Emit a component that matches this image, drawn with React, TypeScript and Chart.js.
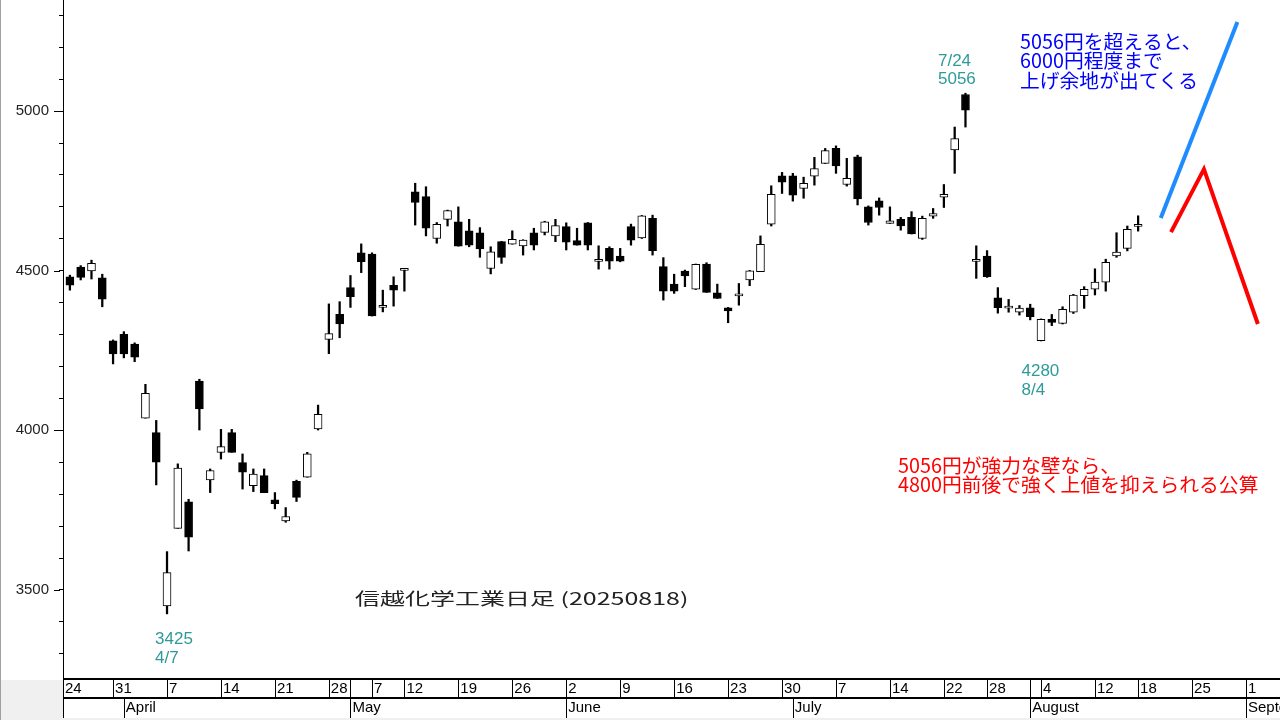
import React, { useEffect, useRef } from 'react';
import { Chart, registerables } from 'chart.js';

Chart.register(...registerables);

// ---------- data ----------
const tradingDays = [
  '03-24', '03-25', '03-26', '03-27', '03-28', '03-31',
  '04-01', '04-02', '04-03', '04-04', '04-07', '04-08', '04-09', '04-10', '04-11', '04-14', '04-15', '04-16', '04-17', '04-18',
  '04-21', '04-22', '04-23', '04-24', '04-25', '04-28', '04-30',
  '05-01', '05-02', '05-07', '05-08', '05-09', '05-12', '05-13', '05-14', '05-15', '05-16', '05-19', '05-20', '05-21', '05-22',
  '05-23', '05-26', '05-27', '05-28', '05-29', '05-30',
  '06-02', '06-03', '06-04', '06-05', '06-06', '06-09', '06-10', '06-11', '06-12', '06-13', '06-16', '06-17', '06-18', '06-19',
  '06-20', '06-23', '06-24', '06-25', '06-26', '06-27', '06-30',
  '07-01', '07-02', '07-03', '07-04', '07-07', '07-08', '07-09', '07-10', '07-11', '07-14', '07-15', '07-16', '07-17', '07-18',
  '07-22', '07-23', '07-24', '07-25', '07-28', '07-29', '07-30', '07-31',
  '08-01', '08-04', '08-05', '08-06', '08-07', '08-08', '08-12', '08-13', '08-14', '08-15', '08-18', '08-19', '08-20', '08-21',
  '08-22', '08-25', '08-26', '08-27', '08-28', '08-29',
  '09-01', '09-02', '09-03', '09-04',
];

const openPrices = [
  4481, 4511, 4499, 4478, 4280, 4301, 4270, 4038, 3993, 3450,
  3693, 3776, 4154, 3845, 3931, 3993, 3899, 3827, 3858, 3782,
  3716, 3840, 3853, 4004, 4285, 4363, 4447, 4556, 4552, 4385,
  4454, 4501, 4747, 4732, 4601, 4661, 4653, 4625, 4619, 4507,
  4591, 4583, 4578, 4619, 4620, 4609, 4638, 4594, 4650, 4529,
  4570, 4546, 4638, 4603, 4664, 4513, 4458, 4499, 4442, 4521,
  4431, 4384, 4421, 4471, 4497, 4646, 4797, 4797, 4758, 4796,
  4836, 4883, 4770, 4857, 4700, 4719, 4648, 4661, 4667, 4601,
  4671, 4730, 4878, 5052, 4529, 4546, 4415, 4383, 4370, 4384,
  4281, 4348, 4335, 4370, 4422, 4442, 4464, 4546, 4570, 4639,
];
const highPrices = [
  4486, 4516, 4533, 4489, 4283, 4309, 4274, 4144, 4031, 3620,
  3895, 3784, 4160, 3879, 4003, 4003, 3926, 3879, 3879, 3805,
  3758, 3844, 3931, 4079, 4396, 4403, 4485, 4584, 4556, 4439,
  4481, 4507, 4774, 4763, 4651, 4690, 4700, 4661, 4635, 4575,
  4592, 4625, 4597, 4633, 4655, 4661, 4650, 4633, 4651, 4578,
  4575, 4570, 4646, 4673, 4674, 4541, 4489, 4502, 4521, 4525,
  4458, 4385, 4460, 4501, 4609, 4766, 4808, 4805, 4793, 4855,
  4883, 4891, 4852, 4862, 4703, 4728, 4700, 4667, 4685, 4671,
  4695, 4770, 4950, 5056, 4578, 4563, 4447, 4410, 4391, 4395,
  4349, 4363, 4387, 4426, 4450, 4506, 4536, 4619, 4640, 4672,
];
const lowPrices = [
  4439, 4471, 4474, 4387, 4208, 4227, 4215, 4038, 3829, 3425,
  3693, 3622, 4001, 3805, 3910, 3931, 3816, 3808, 3805, 3754,
  3712, 3777, 3853, 4001, 4240, 4290, 4385, 4494, 4358, 4371,
  4389, 4436, 4643, 4609, 4586, 4640, 4577, 4575, 4542, 4490,
  4523, 4583, 4549, 4565, 4612, 4591, 4565, 4580, 4565, 4505,
  4505, 4528, 4580, 4601, 4549, 4408, 4429, 4450, 4441, 4432,
  4413, 4337, 4392, 4453, 4497, 4640, 4742, 4718, 4727, 4768,
  4836, 4805, 4765, 4706, 4643, 4674, 4648, 4627, 4615, 4598,
  4664, 4698, 4805, 4950, 4476, 4479, 4367, 4370, 4361, 4346,
  4280, 4328, 4333, 4366, 4382, 4424, 4436, 4542, 4562, 4624,
];
const closePrices = [
  4455, 4479, 4523, 4411, 4239, 4239, 4229, 4116, 3900, 3554,
  3882, 3665, 4067, 3874, 3949, 3931, 3869, 3863, 3805, 3770,
  3730, 3790, 3926, 4050, 4303, 4333, 4419, 4528, 4358, 4387,
  4439, 4503, 4714, 4633, 4645, 4688, 4577, 4580, 4568, 4559,
  4542, 4598, 4596, 4580, 4653, 4641, 4589, 4580, 4580, 4531,
  4530, 4530, 4596, 4672, 4563, 4436, 4436, 4484, 4520, 4432,
  4413, 4374, 4423, 4500, 4583, 4739, 4777, 4737, 4774, 4820,
  4876, 4828, 4789, 4725, 4651, 4698, 4656, 4640, 4615, 4664,
  4679, 4739, 4914, 5003, 4531, 4481, 4384, 4385, 4383, 4356,
  4348, 4338, 4379, 4424, 4442, 4464, 4526, 4558, 4630, 4641,
];
const candleDates = tradingDays.slice(1, 1 + openPrices.length);

const weekTickDates = ['03-24', '03-31', '04-07', '04-14', '04-21', '04-28', '05-07', '05-12', '05-19', '05-26', '06-02', '06-09',
  '06-16', '06-23', '06-30', '07-07', '07-14', '07-22', '07-28', '08-04', '08-12', '08-18', '08-25', '09-01'];
const weekTickLabels = ['24', '31', '7', '14', '21', '28', '7', '12', '19', '26', '2', '9',
  '16', '23', '30', '7', '14', '22', '28', '4', '12', '18', '25', '1'];
const dayRowBreakDates = ['05-01', '08-01'];
const monthStartDates = ['04-01', '05-01', '06-02', '07-01', '08-01', '09-01'];
const monthLabels = ['April', 'May', 'June', 'July', 'August', 'September'];

const priceMin = 3221;
const priceMax = 5348;
const priceTickStep = 100;
const priceLabelStep = 500;
const dayMin = 0.36;
const dayMax = 113.15;

// projection paths (trading-day index, price)
const blueDays = [102.1, 109.2];
const bluePrices = [4665, 5279];
const redDays = [103.05, 106.1, 111.1];
const redPrices = [4621, 4818, 4333];

const titleText = '信越化学工業日足 (20250818)';
const blueNote = ['5056円を超えると、', '6000円程度まで', '上げ余地が出てくる'];
const redNote = ['5056円が強力な壁なら、', '4800円前後で強く上値を抑えられる公算'];
const peakHighLabel = ['7/24', '5056'];
const lowAprLabel = ['3425', '4/7'];
const lowAugLabel = ['4280', '8/4'];

const dayIndex = (d: string) => tradingDays.indexOf(d);

const overlayPlugin = {
  id: 'overlay',
  afterDraw(chart: any) {
    const { ctx, chartArea, scales } = chart;
    const xs = scales.x;
    const ys = scales.y;
    const L = chartArea.left;
    const R = chartArea.right;
    const B = chartArea.bottom;
    const r1 = B + 19;
    const r2 = B + 39;
    const W = chart.width;
    const H = chart.height;
    const px = (d: string) => xs.getPixelForValue(dayIndex(d));

    ctx.save();
    // grey areas
    ctx.fillStyle = '#f0f0f0';
    ctx.fillRect(0, B + 1, L, H - B);
    ctx.fillRect(L, r2, W - L, H - r2);
    ctx.fillStyle = '#a0a0a0';
    ctx.fillRect(0, 0, 1, H);

    // major y ticks
    ctx.strokeStyle = '#000';
    ctx.lineWidth = 1;
    for (let v = Math.ceil(priceMin / priceLabelStep) * priceLabelStep; v <= priceMax; v += priceLabelStep) {
      const yy = Math.round(ys.getPixelForValue(v)) + 0.5;
      ctx.beginPath();
      ctx.moveTo(L - 9, yy);
      ctx.lineTo(L - 3, yy);
      ctx.stroke();
    }

    // x-axis table
    ctx.lineWidth = 2;
    ctx.beginPath();
    ctx.moveTo(L, B);
    ctx.lineTo(R, B);
    ctx.moveTo(L, r1);
    ctx.lineTo(R, r1);
    ctx.stroke();
    ctx.lineWidth = 1;
    ctx.beginPath();
    ctx.moveTo(L + 0.5, 0);
    ctx.lineTo(L + 0.5, r2);
    ctx.stroke();

    ctx.font = "15px 'Liberation Sans', Arial, sans-serif";
    ctx.fillStyle = '#000';
    ctx.textBaseline = 'middle';
    ctx.textAlign = 'left';

    ctx.save();
    ctx.beginPath();
    ctx.rect(L, B, R - L, r2 - B);
    ctx.clip();
    weekTickDates.forEach((d, k) => {
      const p = px(d);
      const xx = Math.round(p) + 0.5;
      if (p > L + 1) {
        ctx.beginPath();
        ctx.moveTo(xx, B);
        ctx.lineTo(xx, r1);
        ctx.stroke();
      }
      ctx.fillText(weekTickLabels[k], Math.max(p, L) + 2, B + 10);
    });
    dayRowBreakDates.forEach((d) => {
      const xx = Math.round(px(d)) + 0.5;
      ctx.beginPath();
      ctx.moveTo(xx, B);
      ctx.lineTo(xx, r1);
      ctx.stroke();
    });
    monthStartDates.forEach((d, k) => {
      const p = px(d);
      const xx = Math.round(p) + 0.5;
      ctx.beginPath();
      ctx.moveTo(xx, r1);
      ctx.lineTo(xx, r2);
      ctx.stroke();
      ctx.fillText(monthLabels[k], p + 2, r1 + 10);
    });
    ctx.restore();

    // title
    ctx.save();
    ctx.font = "17px 'Noto Sans CJK JP'";
    ctx.fillStyle = '#222';
    ctx.textBaseline = 'middle';
    ctx.translate(355, 599);
    ctx.scale(1.47, 1);
    ctx.fillText(titleText, 0, 0);
    ctx.restore();

    // notes
    ctx.font = "19.8px 'Noto Sans CJK JP'";
    ctx.textBaseline = 'middle';
    ctx.fillStyle = '#0000ff';
    blueNote.forEach((t, k) => ctx.fillText(t, 1020, 41 + k * 19.5));
    ctx.fillStyle = '#ff0000';
    redNote.forEach((t, k) => ctx.fillText(t, 898, 465 + k * 19.5));

    // teal price/date labels
    ctx.font = "17px 'Liberation Sans', Arial, sans-serif";
    ctx.fillStyle = '#2f9a9a';
    ctx.textBaseline = 'alphabetic';
    const hx = px('07-24');
    const hy = ys.getPixelForValue(Number(peakHighLabel[1]));
    ctx.fillText(peakHighLabel[0], hx - 27.5, hy - 27);
    ctx.fillText(peakHighLabel[1], hx - 27.5, hy - 9.5);
    const ax = px('04-07');
    const ay = ys.getPixelForValue(Number(lowAprLabel[0]));
    ctx.fillText(lowAprLabel[0], ax - 12, ay + 30);
    ctx.fillText(lowAprLabel[1], ax - 12, ay + 49);
    const bx = px('08-04');
    const by = ys.getPixelForValue(Number(lowAugLabel[0]));
    ctx.fillText(lowAugLabel[0], bx - 19.5, by + 35);
    ctx.fillText(lowAugLabel[1], bx - 19.5, by + 54);

    ctx.restore();
  },
};

export default function App() {
  const ref = useRef<HTMLCanvasElement>(null);

  useEffect(() => {
    document.body.style.margin = '0';
    const canvas = ref.current;
    if (!canvas) return;

    const xs = candleDates.map((d) => dayIndex(d));
    const bodies = xs.map((x, k) => ({ x, y: [openPrices[k], closePrices[k]] }));
    const wicks = xs.map((x, k) => ({ x, y: [lowPrices[k], highPrices[k]] }));
    const bodyColors = xs.map((_, k) => (closePrices[k] >= openPrices[k] ? '#ffffff' : '#000000'));

    const chart = new Chart(canvas, {
      type: 'bar',
      data: {
        datasets: [
          {
            type: 'line',
            data: blueDays.map((x, k) => ({ x, y: bluePrices[k] })),
            borderColor: '#1e8cff',
            borderWidth: 4,
            pointRadius: 0,
            tension: 0,
            order: 0,
          } as any,
          {
            type: 'line',
            data: redDays.map((x, k) => ({ x, y: redPrices[k] })),
            borderColor: '#ff0000',
            borderWidth: 4,
            pointRadius: 0,
            tension: 0,
            order: 0,
          } as any,
          {
            type: 'bar',
            data: bodies as any,
            backgroundColor: bodyColors,
            borderColor: '#000000',
            borderWidth: 1,
            borderSkipped: false,
            barThickness: 8,
            minBarLength: 2,
            grouped: false,
            order: 1,
          } as any,
          {
            type: 'bar',
            data: wicks as any,
            backgroundColor: '#000000',
            borderWidth: 0,
            barThickness: 1.6,
            grouped: false,
            order: 2,
          } as any,
        ],
      },
      options: {
        animation: false,
        responsive: false,
        devicePixelRatio: 1,
        layout: { padding: { top: 0, left: 0, right: 0, bottom: 41 } },
        plugins: {
          legend: { display: false },
          tooltip: { enabled: false },
        },
        scales: {
          x: {
            type: 'linear',
            display: false,
            min: dayMin,
            max: dayMax,
            offset: false,
          },
          y: {
            type: 'linear',
            position: 'left',
            min: priceMin,
            max: priceMax,
            border: { display: true, color: '#000', width: 1 },
            grid: { drawOnChartArea: false, drawTicks: true, tickLength: 4, color: '#000', tickColor: '#000' },
            ticks: {
              stepSize: priceTickStep,
              includeBounds: false,
              autoSkip: false,
              padding: 10,
              color: '#222',
              font: { family: "'Liberation Sans', Arial, sans-serif", size: 15 },
              callback: (v: any) => (Number(v) % priceLabelStep === 0 ? String(v) : ''),
            },
            afterFit: (scale: any) => {
              scale.width = 63;
              scale.paddingTop = 0;
              scale.paddingBottom = 0;
            },
          },
        },
      },
      plugins: [overlayPlugin],
    } as any);

    return () => chart.destroy();
  }, []);

  return <canvas ref={ref} width={1280} height={720} style={{ display: 'block', width: 1280, height: 720 }} />;
}
